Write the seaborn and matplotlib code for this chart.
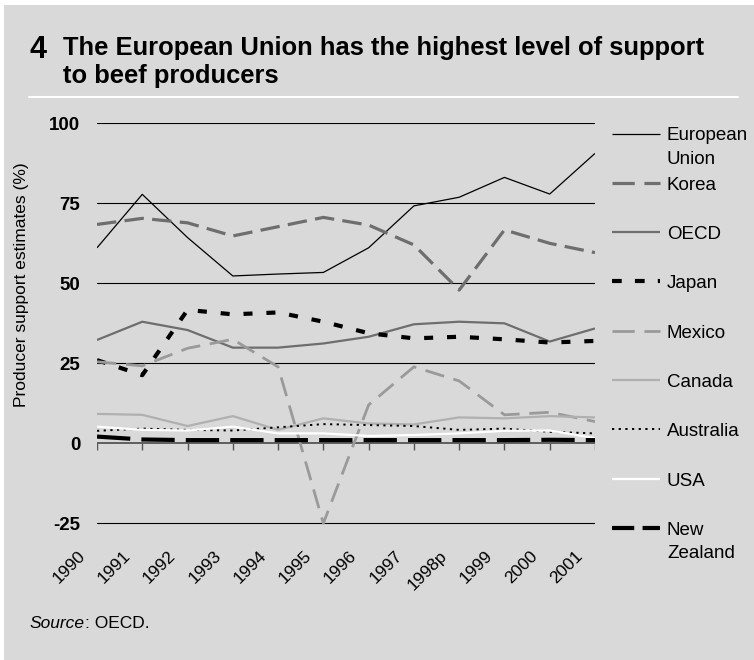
import matplotlib
matplotlib.use("Agg")
import matplotlib.pyplot as plt
import matplotlib.transforms as mtransforms
from matplotlib.lines import Line2D
from matplotlib.patches import Rectangle
import pandas as pd
import seaborn as sns

# data (producer support estimates, %)
years = ["1990", "1991", "1992", "1993", "1994", "1995", "1996", "1997",
         "1998p", "1999", "2000", "2001"]
european_union = [61.0, 77.7, 64.2, 52.2, 52.8, 53.3, 61.0, 74.1, 76.8, 83.0, 77.8, 90.5]
korea = [68.3, 70.2, 68.8, 64.7, 67.6, 70.5, 68.1, 61.9, 47.8, 66.6, 62.4, 59.5]
oecd = [32.2, 37.9, 35.3, 29.8, 29.8, 31.1, 33.2, 37.1, 37.9, 37.4, 31.7, 35.8]
japan = [25.9, 21.2, 41.6, 40.2, 40.8, 37.9, 34.3, 32.7, 33.2, 32.4, 31.4, 31.9]
mexico = [25.4, 24.1, 29.6, 32.4, 23.8, -25.1, 11.9, 23.8, 19.4, 8.8, 9.6, 6.7]
canada = [9.1, 8.8, 5.3, 8.4, 4.1, 7.7, 6.1, 5.8, 8.0, 7.7, 8.4, 8.0]
australia = [3.8, 4.5, 4.1, 3.9, 4.9, 5.9, 5.6, 5.3, 4.1, 4.5, 3.5, 3.0]
usa = [5.1, 4.1, 3.9, 5.1, 3.0, 3.0, 2.2, 2.5, 3.0, 3.8, 3.9, 1.5]
new_zealand = [2.0, 1.1, 0.9, 0.9, 0.9, 0.9, 0.9, 0.9, 0.9, 0.9, 1.0, 0.9]

series_names = ["European\nUnion", "Korea", "OECD", "Japan", "Mexico",
                "Canada", "Australia", "USA", "New\nZealand"]
series_values = [european_union, korea, oecd, japan, mexico,
                 canada, australia, usa, new_zealand]

# colour, width (pt), dash pattern in plot, dash pattern in legend sample
styles = [
    ("black", 0.9, "-", "-"),
    ("#6e6e6e", 2.3, (0, (14, 6)), (0, (16, 7))),
    ("#6e6e6e", 1.6, "-", "-"),
    ("black", 3.0, (0, (6.5, 10)), (0, (7, 9.5))),
    ("#9a9a9a", 2.0, (0, (14, 7)), (0, (16, 7))),
    ("#b0b0b0", 1.6, "-", "-"),
    ("black", 1.4, (0, (1.6, 3.2)), (0, (1.6, 3.2))),
    ("white", 1.6, "-", "-"),
    ("black", 3.0, (0, (24, 8)), (0, (16, 6))),
]

rows = []
for name, vals in zip(series_names, series_values):
    for i, v in enumerate(vals):
        rows.append({"series": name, "pos": i, "value": v})
df = pd.DataFrame(rows)

sns.set_style("white")
plt.rcParams["font.family"] = ["Liberation Sans", "DejaVu Sans"]
plt.rcParams["lines.scale_dashes"] = False
plt.rcParams["text.color"] = "black"
plt.rcParams["axes.labelcolor"] = "black"
plt.rcParams["xtick.color"] = "black"
plt.rcParams["ytick.color"] = "black"

BG = "#d9d9d9"
W, H = 754, 660
fig = plt.figure(figsize=(W / 100, H / 100), dpi=100, facecolor=BG)


def fx(x):
    return x / W


def fy(y):
    return 1 - y / H


# white strips at the top and left edge
fig.add_artist(Rectangle((0, fy(5)), 1, 5 / H, transform=fig.transFigure,
                         facecolor="white", edgecolor="none"))
fig.add_artist(Rectangle((0, 0), 4 / W, 1, transform=fig.transFigure,
                         facecolor="white", edgecolor="none"))

ax = fig.add_axes([fx(97), fy(532.6), fx(595) - fx(97), (532.6 - 123) / H])
ax.set_facecolor(BG)
for s in ax.spines.values():
    s.set_visible(False)

for yv in [100, 75, 50, 25, -25]:
    ax.axhline(yv, color="black", lw=0.8, zorder=1)
ax.axhline(0, color="#555555", lw=1.3, zorder=1)
ax.vlines(range(len(years)), -2.2, 0, color="#555555", lw=1.0, zorder=1)

for name, (col, lw, ls, _) in zip(series_names, styles):
    sub = df[df["series"] == name]
    sns.lineplot(data=sub, x="pos", y="value", ax=ax, color=col, linewidth=lw,
                 linestyle=ls, errorbar=None, legend=False, zorder=3,
                 solid_capstyle="butt", dash_capstyle="butt")

ax.set_xlim(0, len(years) - 1)
ax.set_ylim(-28, 100)
ax.set_xlabel("")
ax.set_ylabel("")
ax.set_yticks([-25, 0, 25, 50, 75, 100])
ax.set_yticklabels(["-25", "0", "25", "50", "75", "100"], fontweight="bold",
                   fontsize=13.5)
ax.set_xticks(range(len(years)))
ax.set_xticklabels(years, rotation=45, ha="right", fontsize=12.5)
ax.tick_params(axis="y", length=0, pad=12)
ax.tick_params(axis="x", length=0, pad=11)
shift = mtransforms.ScaledTranslation(-0.09, 0, fig.dpi_scale_trans)
for lab in ax.get_xticklabels():
    lab.set_transform(lab.get_transform() + shift)

fig.text(fx(22), fy(285), "Producer support estimates (%)", rotation=90,
         fontsize=12.5, ha="center", va="center")

# legend drawn as line samples beside labels
for i, (name, (col, lw, _, lls)) in enumerate(zip(series_names, styles)):
    yp = 133.5 + 49.3 * i
    fig.add_artist(Line2D([fx(612), fx(660)], [fy(yp), fy(yp)],
                          transform=fig.transFigure, color=col, lw=lw,
                          linestyle=lls, solid_capstyle="butt",
                          dash_capstyle="butt"))
    for k, part in enumerate(name.split("\n")):
        fig.text(fx(667), fy(yp + 7 + 23 * k), part, fontsize=13.5,
                 va="baseline", ha="left")

# title block
fig.text(fx(30), fy(58), "4", fontsize=22, fontweight="bold", va="baseline")
fig.text(fx(63), fy(55), "The European Union has the highest level of support",
         fontsize=18.4, fontweight="bold", va="baseline")
fig.text(fx(63), fy(83), "to beef producers", fontsize=18.4,
         fontweight="bold", va="baseline")
fig.add_artist(Line2D([fx(29), fx(738)], [fy(97), fy(97)],
                      transform=fig.transFigure, color="white", lw=1.5))

# source note
t1 = fig.text(fx(30), fy(628), "Source", fontsize=12.5, style="italic",
              va="baseline")
fig.canvas.draw()
bb = t1.get_window_extent()
fig.text(bb.x1 / W, fy(628), ": OECD.", fontsize=12.5, va="baseline")

fig.savefig("out.png", dpi=100, facecolor=BG)
